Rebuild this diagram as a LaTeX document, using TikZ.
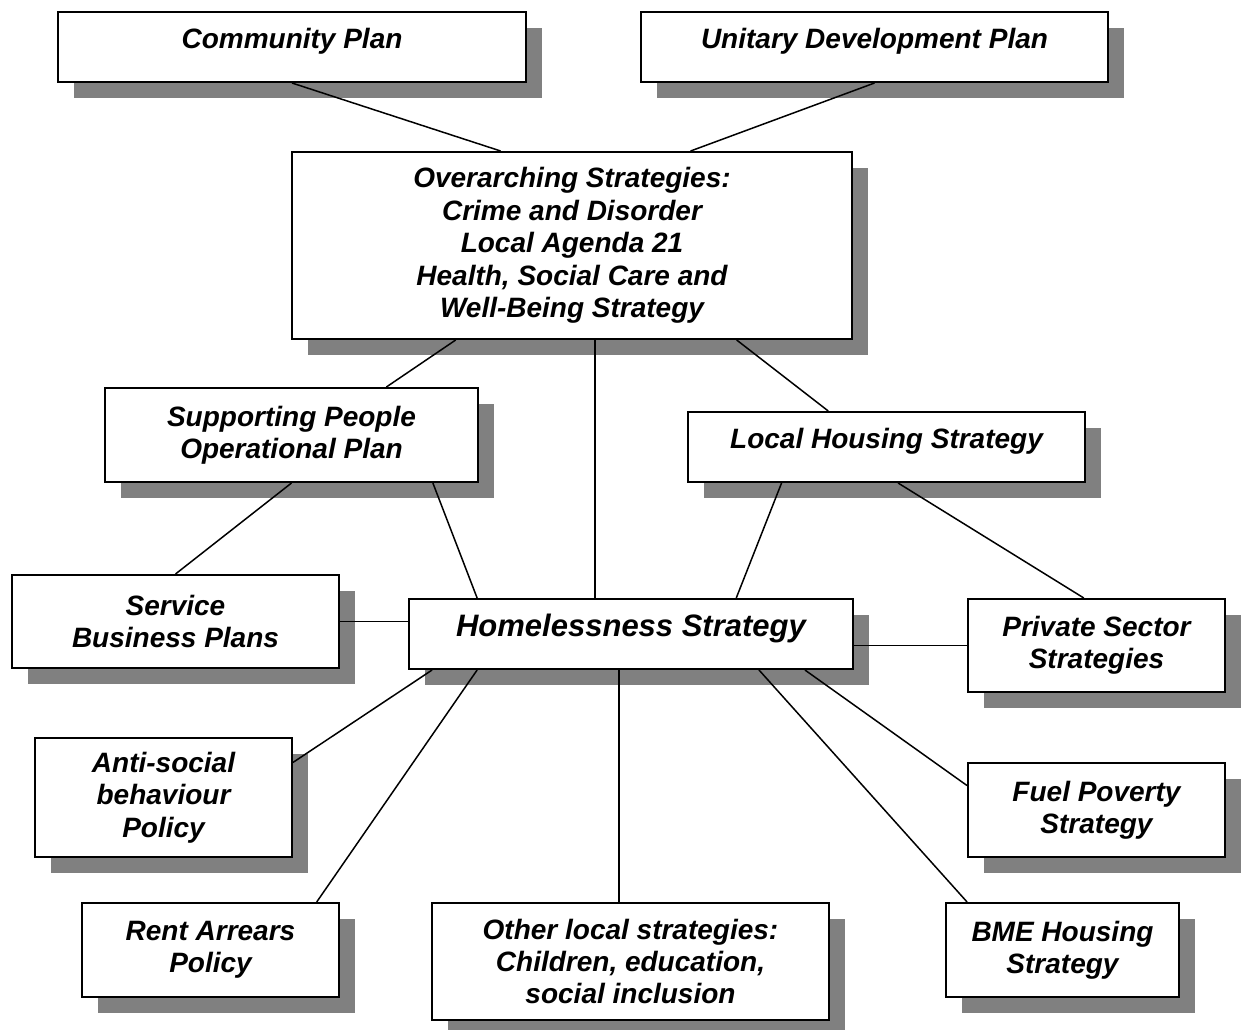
\documentclass[tikz,border=0pt]{standalone}
\usepackage{fontspec}
\setmainfont{Liberation Sans}
\usetikzlibrary{calc,shadows}

\begin{document}
\begin{tikzpicture}[x=0.5pt,y=-0.5pt,
  planbox/.style={draw, line width=1pt, fill=white, anchor=north west, align=center, inner sep=2pt,
    font=\bfseries\itshape\fontsize{14}{16.2}\selectfont,
    drop shadow={shadow xshift=7.75pt, shadow yshift=-8pt, fill=black!50, opacity=1}},
  boxsize/.style 2 args={minimum width=#1*0.5pt, minimum height=#2*0.5pt},
  oneline/.style={text depth=8.5pt},
  link/.style={line width=0.75pt}]
\clip (0,0) rectangle (1242,1029);
\node[planbox, oneline, boxsize={468}{70}] (cp) at (57,11) {Community Plan};
\node[planbox, oneline, boxsize={467}{70}] (udp) at (640,11) {Unitary Development Plan};
\node[planbox, boxsize={560}{187}] (os) at (291,151) {Overarching Strategies:\\Crime and Disorder\\Local Agenda 21\\Health, Social Care and\\Well-Being Strategy};
\node[planbox, boxsize={373}{94}] (spop) at (104,387) {Supporting People\\Operational Plan};
\node[planbox, oneline, boxsize={397}{70}] (lhs) at (687,411) {Local Housing Strategy};
\node[planbox, boxsize={327}{93}] (sbp) at (11,574) {Service\\Business Plans};
\node[planbox, oneline, boxsize={444}{70}, font=\bfseries\itshape\fontsize{15.5}{18}\selectfont] (hs) at (408,598) {Homelessness Strategy};
\node[planbox, boxsize={257}{93}] (pss) at (967,598) {Private Sector\\Strategies};
\node[planbox, boxsize={257}{119}] (asb) at (34,737) {Anti-social\\behaviour\\Policy};
\node[planbox, boxsize={257}{94}] (fps) at (967,762) {Fuel Poverty\\Strategy};
\node[planbox, boxsize={257}{94}] (rap) at (81,902) {Rent Arrears\\Policy};
\node[planbox, boxsize={397}{117}] (ols) at (431,902) {Other local strategies:\\Children, education,\\social inclusion};
\node[planbox, boxsize={233}{94}] (bme) at (945,902) {BME Housing\\Strategy};

\draw[link] (cp.south) -- ($(os.north west)!.373!(os.north east)$);
\draw[link] (udp.south) -- ($(os.north west)!.711!(os.north east)$);
\draw[link] ($(os.south west)!.293!(os.south east)$) -- ($(spop.north west)!.753!(spop.north east)$);
\draw[link] ($(hs.north west)!.419!(hs.north east)$) coordinate (hsn) -- (hsn |- os.south);
\draw[link] ($(os.south west)!.793!(os.south east)$) -- ($(lhs.north west)!.354!(lhs.north east)$);
\draw[link] (spop.south) -- (sbp.north);
\draw[link] ($(spop.south west)!.877!(spop.south east)$) -- ($(hs.north west)!.155!(hs.north east)$);
\draw[link] ($(lhs.south west)!.237!(lhs.south east)$) -- ($(hs.north west)!.736!(hs.north east)$);
\draw[link] ($(lhs.south west)!.529!(lhs.south east)$) -- ($(pss.north west)!.451!(pss.north east)$);
\draw[link] (sbp.east) -- (sbp.east -| hs.west);
\draw[link] (pss.west -| hs.east) -- (pss.west);
\draw[link] ($(hs.south west)!.054!(hs.south east)$) -- ($(asb.north east)!.21!(asb.south east)$);
\draw[link] ($(hs.south west)!.155!(hs.south east)$) -- ($(rap.north west)!.91!(rap.north east)$);
\draw[link] ($(hs.south west)!.473!(hs.south east)$) coordinate (hss) -- (hss |- ols.north);
\draw[link] ($(hs.south west)!.787!(hs.south east)$) -- ($(bme.north west)!.094!(bme.north east)$);
\draw[link] ($(hs.south west)!.89!(hs.south east)$) -- ($(fps.north west)!.245!(fps.south west)$);
\end{tikzpicture}
\end{document}
